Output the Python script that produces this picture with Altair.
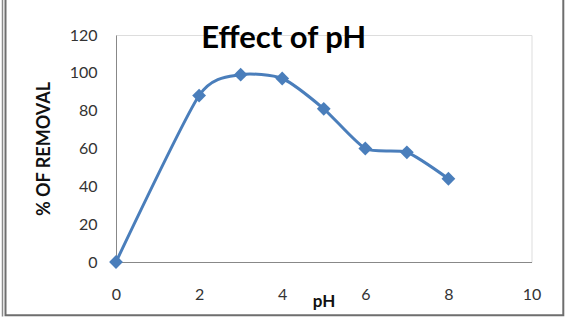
import altair as alt
import pandas as pd

ph = [0, 2, 3, 4, 5, 6, 7, 8]
removal = [0, 88, 99, 97, 81, 60, 58, 44]
x_ticks = [0, 2, 4, 6, 8, 10]
y_ticks = [0, 20, 40, 60, 80, 100, 120]
chart_title = "Effect of pH"

df = pd.DataFrame({"pH": ph, "removal": removal})

FONT = "Lato"
BLUE = "#4A7EBB"

x_enc = alt.X(
    "pH:Q",
    scale=alt.Scale(domain=[0, 10], nice=False, zero=True),
    axis=alt.Axis(
        values=x_ticks, title="pH", grid=False, ticks=False, tickSize=0,
        labelOverlap=False, labelFlush=False, labelBound=False,
        domainColor="#888888", domainWidth=1,
        labelFont=FONT, labelFontSize=16, labelColor="#333333",
        labelBaseline="alphabetic", labelPadding=37,
        titleFont=FONT, titleFontSize=17, titleFontWeight="bold",
        titleColor="#111111", titleX=207.5, titleY=44.7,
        titleAlign="center", titleBaseline="alphabetic",
    ),
)
y_enc = alt.Y(
    "removal:Q",
    scale=alt.Scale(domain=[0, 120], nice=False),
    axis=alt.Axis(
        values=y_ticks, title="% OF REMOVAL", grid=False, ticks=False, tickSize=0,
        labelOverlap=False, labelFlush=False, labelBound=False,
        domainColor="#888888", domainWidth=1,
        labelFont=FONT, labelFontSize=16, labelColor="#333333",
        labelPadding=19,
        titleFont=FONT, titleFontSize=18, titleFontWeight="bold",
        titleColor="#111111", titleAngle=270, titleX=-72, titleY=113.5,
        titleAlign="center", titleBaseline="middle",
    ),
)

base = alt.Chart(df)

line = base.mark_line(
    interpolate="cardinal", tension=0.35, color=BLUE, strokeWidth=3
).encode(x=x_enc, y=y_enc)

points = base.mark_point(
    shape="diamond", filled=True, color=BLUE, size=190, opacity=1
).encode(x=x_enc, y=y_enc)

frame_data = alt.Data(values=[{"t": chart_title}])
frame = alt.Chart(frame_data).mark_rect(
    fill=None, stroke="#6e6e6e", strokeWidth=2, clip=False
).encode(
    x=alt.value(-110.5), x2=alt.value(447.3),
    y=alt.value(-40), y2=alt.value(280.3),
)
outer = alt.Chart(frame_data).mark_rule(
    stroke="#8a8a8a", strokeWidth=1.5
).encode(
    x=alt.value(-113.5), y=alt.value(-40), y2=alt.value(281.5),
)
title = alt.Chart(frame_data).mark_text(
    font=FONT, fontSize=31, fontWeight="bold", color="#000000",
    align="center", baseline="alphabetic",
).encode(
    text="t:N", x=alt.value(167.7), y=alt.value(12.7),
)

chart = alt.layer(frame, outer, line, points, title).properties(
    width=415.5,
    height=227,
    autosize=alt.AutoSizeParams(type="none"),
    padding={"left": 116, "top": 35, "right": 38.5, "bottom": 70},
).configure_view(stroke=None).configure(background="white")

chart.save("out.html", embed_options={"renderer": "svg", "actions": False})
